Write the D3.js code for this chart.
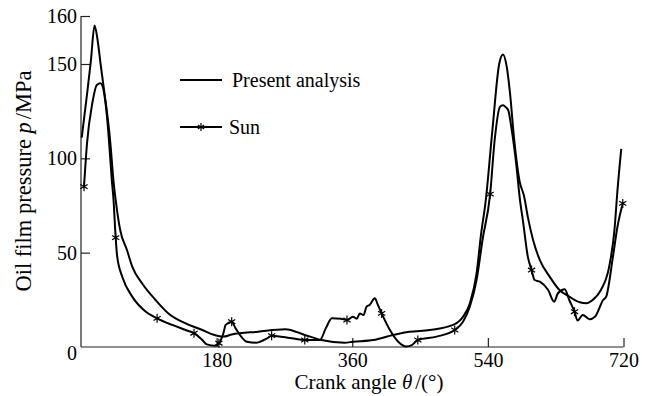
<!DOCTYPE html>
<html>
<head>
<meta charset="utf-8">
<script src="https://cdn.jsdelivr.net/npm/d3@7"></script>
<style>
  body { margin: 0; background: #fff; }
  text { font-family: "Liberation Serif", "DejaVu Serif", serif; fill: #000; }
</style>
</head>
<body>
<script>
// crank angle (deg) and pressure (MPa)
var presentAngle = [1, 8, 13, 18, 22, 26, 30, 39, 43, 46, 52, 61, 68, 81, 99, 116, 139, 161, 177, 189, 200, 235, 271, 297, 319, 350, 361, 388, 414, 436, 463, 494, 507, 516, 525, 531, 537, 546, 555, 560, 565, 569, 575, 582, 588, 593, 600, 609, 622, 635, 648, 662, 671, 679, 690, 701, 708, 712, 717];
var presentValue = [111, 134, 150.5, 158, 155, 150, 138, 108, 88.5, 78, 62, 51.4, 42.6, 33.8, 24.9, 17.8, 12.5, 9, 6.4, 5.5, 6.6, 8.1, 9.4, 6.4, 3.7, 2.3, 2.8, 3.7, 6.4, 8.1, 9, 11.7, 16, 23, 39, 60, 77, 115, 150, 152, 148.6, 136, 109.6, 88, 80, 69, 56.7, 46, 37.3, 30.2, 26.7, 23.7, 23.2, 24.9, 30.2, 42.6, 62, 83, 105];

var sunAngle = [4, 8, 15, 21, 26, 30, 35, 39, 41, 43, 46, 48, 55, 68, 86, 101, 121, 139, 150, 161, 167, 178, 183, 189, 192, 200, 205, 220, 233, 247, 253, 280, 297, 317, 325, 333, 345, 353, 361, 366, 370, 375, 379, 383, 390, 394, 399, 410, 421, 432, 439, 447, 472, 496, 507, 516, 525, 533, 543, 549, 556, 560, 564, 567, 571, 578, 582, 587, 593, 598, 602, 609, 620, 628, 633, 642, 648, 655, 659, 666, 675, 682, 693, 697, 706, 712, 719];
var sunValue = [85, 108, 129.2, 138.9, 139.8, 136, 120, 99, 88, 79, 58, 48, 37, 26.7, 18.7, 15.2, 11.7, 9, 7.3, 3.7, 1.4, 0.7, 2, 7.3, 11.7, 13.4, 10, 2.8, 2.3, 4.6, 6, 4.6, 3.7, 3.7, 10, 15.2, 15, 14.3, 16, 15, 17.8, 16.9, 21.4, 22.3, 25.8, 22.3, 17.8, 9, 2.8, 0.3, 1, 3.7, 5.5, 9, 13.4, 21.4, 35.5, 57, 81, 109.6, 127.3, 128.2, 127, 125.6, 116.8, 95.6, 80, 65.5, 47.9, 40.8, 35.5, 34.6, 30.2, 24, 28.5, 30.6, 24.9, 18.7, 14, 17, 14.7, 16, 24.9, 26.7, 47.9, 63.8, 76.1];

// star markers on the Sun curve
var sunMarkAngle = [4, 46, 101, 150, 183, 200, 253, 297, 353, 399, 447, 496, 543, 598, 655, 719];
var sunMarkValue = [85, 58, 15.2, 7.3, 2, 13.4, 6, 3.7, 14.3, 17.8, 3.7, 9, 81, 40.8, 18.7, 76.1];

var xTicks = [180, 360, 540, 720];
var yTicks = [0, 50, 100, 150, 160];

var width = 648, height = 396;

var svg = d3.select("body").append("svg")
    .attr("width", width)
    .attr("height", height);

// x is linear, y is stretched above 150
var x = d3.scaleLinear().domain([0, 720]).range([81, 623.5]);
var y = d3.scaleLinear().domain([0, 150, 160]).range([347, 64, 16]);

var line = d3.line()
    .x(function(d) { return x(d[0]); })
    .y(function(d) { return y(d[1]); })
    .curve(d3.curveMonotoneX);

var present = d3.zip(presentAngle, presentValue);
var sun = d3.zip(sunAngle, sunValue);

// axes
var xAxis = svg.append("g")
    .attr("transform", "translate(0,347)")
    .call(d3.axisBottom(x).tickValues(xTicks).tickSize(-9).tickSizeOuter(0).tickPadding(6));
xAxis.select(".domain").attr("d", "M81,0H623.5");

var yAxis = svg.append("g")
    .attr("transform", "translate(81,0)")
    .call(d3.axisLeft(y).tickValues(yTicks).tickSize(-9).tickSizeOuter(0).tickPadding(4));
yAxis.select(".domain").attr("d", "M0,16V347");
yAxis.selectAll(".tick").filter(function(d) { return d === 0; }).select("line").remove();
yAxis.selectAll(".tick").filter(function(d) { return d === 0; }).select("text").attr("dy", "0.62em");

svg.selectAll(".tick text")
    .style("font-family", "Liberation Serif")
    .style("font-size", "20px");
svg.selectAll(".domain, .tick line").attr("stroke", "#222").attr("stroke-width", 1.2);

// curves
svg.append("path")
    .datum(present)
    .attr("fill", "none")
    .attr("stroke", "#000")
    .attr("stroke-width", 2)
    .attr("d", line);

svg.append("path")
    .datum(sun)
    .attr("fill", "none")
    .attr("stroke", "#000")
    .attr("stroke-width", 2)
    .attr("d", line);

function star(cx, cy, r) {
  var a = r * 0.8;
  return "M" + cx + "," + (cy - r) + "V" + (cy + r) +
    "M" + (cx - a) + "," + (cy - a * 0.6) + "L" + (cx + a) + "," + (cy + a * 0.6) +
    "M" + (cx - a) + "," + (cy + a * 0.6) + "L" + (cx + a) + "," + (cy - a * 0.6);
}

svg.append("g").selectAll("path")
    .data(d3.zip(sunMarkAngle, sunMarkValue))
    .join("path")
    .attr("d", function(d) { return star(x(d[0]), y(d[1]), 4.5); })
    .attr("stroke", "#000")
    .attr("stroke-width", 1.2)
    .attr("fill", "none");

// legend
var legend = svg.append("g");
legend.append("line").attr("x1", 180).attr("x2", 222).attr("y1", 80).attr("y2", 80)
    .attr("stroke", "#000").attr("stroke-width", 2);
legend.append("text").attr("x", 232).attr("y", 87).style("font-size", "20px").text("Present analysis");
legend.append("line").attr("x1", 180).attr("x2", 222).attr("y1", 127).attr("y2", 127)
    .attr("stroke", "#000").attr("stroke-width", 2);
legend.append("path").attr("d", star(201, 127, 4)).attr("stroke", "#000").attr("stroke-width", 1.2);
legend.append("text").attr("x", 229).attr("y", 134).style("font-size", "20px").text("Sun");

// axis titles
var xt = svg.append("text")
    .attr("x", 369).attr("y", 389)
    .attr("text-anchor", "middle")
    .style("font-size", "21px");
xt.append("tspan").text("Crank angle ");
xt.append("tspan").style("font-style", "italic").text("θ");
xt.append("tspan").attr("dx", 3).text("/(°)");

var yt = svg.append("text")
    .attr("transform", "translate(31,181) rotate(-90)")
    .attr("text-anchor", "middle")
    .style("font-size", "22.5px");
yt.append("tspan").text("Oil film pressure ");
yt.append("tspan").style("font-style", "italic").text("p");
yt.append("tspan").attr("dx", 3).text("/MPa");
</script>
</body>
</html>
